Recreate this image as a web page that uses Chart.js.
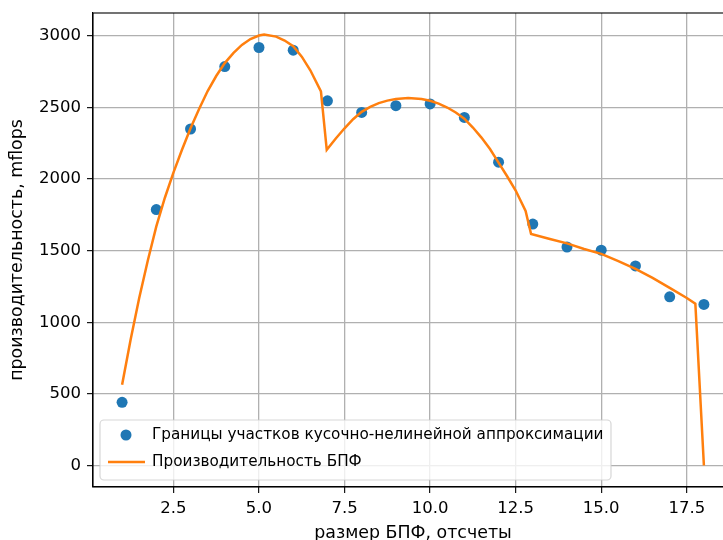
<!DOCTYPE html>
<html>
<head>
<meta charset="utf-8">
<script src="https://cdn.jsdelivr.net/npm/chart.js@4/dist/chart.umd.min.js"></script>
<style>
    html, body { margin: 0; padding: 0; background: #fff; overflow: hidden; }
    #wrap { width: 723px; height: 540px; overflow: hidden; }
</style>
</head>
<body>
<div id="wrap"><canvas id="fftChart" width="750" height="544"></canvas></div>
<script>
// точки (границы участков)
var sizes = [1, 2, 3, 4, 5, 6, 7, 8, 9, 10, 11, 12, 13, 14, 15, 16, 17, 18]
var mflops = [441, 1787, 2350, 2786, 2919, 2900, 2547, 2466, 2513, 2525, 2431, 2118, 1686, 1526, 1504, 1394, 1178, 1125]

// кривая производительности
var curveX = [1.0, 1.25, 1.5, 1.75, 2.0, 2.25, 2.5, 2.75, 3.0, 3.25, 3.5, 3.75, 4.0, 4.25, 4.5, 4.75, 5.0, 5.15, 5.5, 5.75, 6.0, 6.25, 6.5, 6.81,
              6.98, 7.25, 7.5, 7.75, 8.0, 8.25, 8.5, 8.75, 9.0, 9.36, 9.75, 10.0, 10.25, 10.5, 10.75, 11.0, 11.25, 11.5, 11.75, 12.0, 12.25, 12.5, 12.79,
              12.95, 13.5, 14.0, 14.5, 15.0, 15.5, 16.0, 16.5, 17.0, 17.5, 17.75, 18.0]
var curveY = [564, 880, 1170, 1430, 1670, 1870, 2045, 2205, 2355, 2490, 2615, 2720, 2810, 2880, 2937, 2978, 3003, 3010, 2995, 2968, 2928, 2855, 2760, 2612,
              2205, 2285, 2355, 2418, 2470, 2505, 2531, 2548, 2560, 2567, 2560, 2547, 2527, 2500, 2465, 2422, 2360, 2290, 2210, 2115, 2020, 1920, 1778,
              1617, 1582, 1551, 1512, 1478, 1428, 1373, 1310, 1240, 1170, 1130, 0]

var xTicks = [2.5, 5.0, 7.5, 10.0, 12.5, 15.0, 17.5]
var yTicks = [0, 500, 1000, 1500, 2000, 2500, 3000]

var labelPoints = 'Границы участков кусочно-нелинейной аппроксимации'
var labelCurve = 'Производительность БПФ'
var xTitle = 'размер БПФ, отсчеты'
var yTitle = 'производительность, mflops'

var blue = '#1f77b4'
var orange = '#ff7f0e'
var gridColor = '#b0b0b0'
var fontFamily = "'DejaVu Sans', sans-serif"

Chart.defaults.font.family = fontFamily
Chart.defaults.font.size = 16.5
Chart.defaults.color = '#000'

var pointData = []
for (i = 0; i < sizes.length; i++) {
    pointData.push({x: sizes[i], y: mflops[i]})
}
var curveData = []
for (i = 0; i < curveX.length; i++) {
    curveData.push({x: curveX[i], y: curveY[i]})
}

function fixedTicks(list) {
    return function(scale) {
        scale.ticks = list.map(function(v) { return {value: v} })
    }
}

// рамка осей + легенда внутри области графика (как в matplotlib)
var framePlugin = {
    id: 'frameAndLegend',
    afterDraw: function(chart) {
        var c = chart.ctx
        var a = chart.chartArea
        c.save()
        c.strokeStyle = '#000'
        c.lineWidth = 1.1
        c.strokeRect(a.left, a.top, a.right - a.left, a.bottom - a.top)

        // legend box
        var bx = 100, by = 420, bw = 511, bh = 60, r = 4
        c.beginPath()
        c.moveTo(bx + r, by)
        c.arcTo(bx + bw, by, bx + bw, by + bh, r)
        c.arcTo(bx + bw, by + bh, bx, by + bh, r)
        c.arcTo(bx, by + bh, bx, by, r)
        c.arcTo(bx, by, bx + bw, by, r)
        c.closePath()
        c.fillStyle = 'rgba(255,255,255,0.8)'
        c.fill()
        c.strokeStyle = 'rgba(204,204,204,0.8)'
        c.lineWidth = 1.2
        c.stroke()

        var ds = chart.data.datasets
        c.font = "15.25px " + fontFamily
        c.textBaseline = 'middle'
        c.textAlign = 'left'

        // row 1: scatter marker
        c.beginPath()
        c.arc(126, 435, 5.5, 0, Math.PI * 2)
        c.fillStyle = ds[0].backgroundColor
        c.fill()
        c.fillStyle = '#000'
        c.fillText(ds[0].label, 152, 435)

        // row 2: line sample
        c.beginPath()
        c.moveTo(108, 462)
        c.lineTo(145, 462)
        c.strokeStyle = ds[1].borderColor
        c.lineWidth = 2.5
        c.stroke()
        c.fillText(ds[1].label, 152, 462)
        c.restore()
    }
}

var ctx = document.getElementById('fftChart')
new Chart(ctx, {
    type: 'scatter',
    data: {
        datasets: [
            {
                label: labelPoints,
                data: pointData,
                backgroundColor: blue,
                borderWidth: 0,
                pointRadius: 5.5,
                pointHoverRadius: 5.5,
                order: 1
            },
            {
                label: labelCurve,
                data: curveData,
                showLine: true,
                borderColor: orange,
                backgroundColor: orange,
                borderWidth: 2.5,
                pointRadius: 0,
                tension: 0,
                order: 0
            }
        ]
    },
    options: {
        responsive: false,
        animation: false,
        devicePixelRatio: 1,
        layout: {
            padding: {left: 0, top: 13, right: 17, bottom: 0}
        },
        scales: {
            x: {
                type: 'linear',
                min: 0.15,
                max: 18.85,
                afterBuildTicks: fixedTicks(xTicks),
                afterFit: function(scale) {
                    scale.height = 57
                    scale.paddingLeft = 0
                    scale.paddingRight = 0
                },
                ticks: {
                    padding: 6,
                    maxRotation: 0,
                    autoSkip: false,
                    callback: function(v) { return v.toFixed(1) }
                },
                grid: {
                    color: gridColor,
                    lineWidth: 1.3,
                    tickColor: '#000',
                    tickLength: 6,
                    tickWidth: 1.1
                },
                border: { color: '#000', width: 1.1 },
                title: {
                    display: true,
                    text: xTitle,
                    font: { size: 17.4 },
                    padding: {top: 0, bottom: 0}
                }
            },
            y: {
                min: -150,
                max: 3160,
                afterBuildTicks: fixedTicks(yTicks),
                afterFit: function(scale) {
                    scale.width = 93
                    scale.paddingTop = 0
                    scale.paddingBottom = 0
                },
                ticks: {
                    padding: 6,
                    autoSkip: false,
                    callback: function(v) { return String(v) }
                },
                grid: {
                    color: gridColor,
                    lineWidth: 1.3,
                    tickColor: '#000',
                    tickLength: 6,
                    tickWidth: 1.1
                },
                border: { color: '#000', width: 1.1 },
                title: {
                    display: true,
                    text: yTitle,
                    font: { size: 17.4 },
                    padding: {top: 7, bottom: 0}
                }
            }
        },
        plugins: {
            legend: { display: false },
            tooltip: { enabled: false }
        }
    },
    plugins: [framePlugin]
})
</script>
</body>
</html>
